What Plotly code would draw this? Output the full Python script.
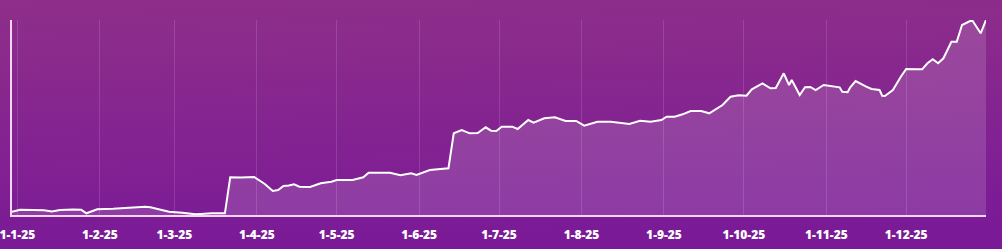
import base64
import plotly.graph_objects as go

dates = [
    "2024-12-30", "2025-01-02", "2025-01-07", "2025-01-11", "2025-01-14", "2025-01-17",
    "2025-01-22", "2025-01-25", "2025-01-27", "2025-01-31", "2025-02-06", "2025-02-11",
    "2025-02-15", "2025-02-18", "2025-02-20", "2025-02-23", "2025-02-27", "2025-03-04",
    "2025-03-09", "2025-03-11", "2025-03-15", "2025-03-20", "2025-03-22", "2025-03-26",
    "2025-03-31", "2025-04-04", "2025-04-07", "2025-04-09", "2025-04-11", "2025-04-13",
    "2025-04-15", "2025-04-17", "2025-04-21", "2025-04-25", "2025-04-29", "2025-05-01",
    "2025-05-07", "2025-05-11", "2025-05-13", "2025-05-21", "2025-05-25", "2025-05-29",
    "2025-05-31", "2025-06-05", "2025-06-09", "2025-06-12", "2025-06-14", "2025-06-17",
    "2025-06-20", "2025-06-23", "2025-06-26", "2025-06-28", "2025-06-30", "2025-07-02",
    "2025-07-06", "2025-07-08", "2025-07-12", "2025-07-14", "2025-07-18", "2025-07-22",
    "2025-07-26", "2025-07-30", "2025-08-02", "2025-08-07", "2025-08-12", "2025-08-19",
    "2025-08-23", "2025-08-27", "2025-08-31", "2025-09-02", "2025-09-05", "2025-09-08",
    "2025-09-11", "2025-09-15", "2025-09-18", "2025-09-23", "2025-09-26", "2025-09-29",
    "2025-10-02", "2025-10-04", "2025-10-08", "2025-10-11", "2025-10-13", "2025-10-16",
    "2025-10-18", "2025-10-19", "2025-10-22", "2025-10-24", "2025-10-26", "2025-10-28",
    "2025-10-31", "2025-11-03", "2025-11-06", "2025-11-07", "2025-11-09", "2025-11-10",
    "2025-11-12", "2025-11-16", "2025-11-18", "2025-11-21", "2025-11-22", "2025-11-23",
    "2025-11-26", "2025-11-29", "2025-12-01", "2025-12-05", "2025-12-07", "2025-12-09",
    "2025-12-11", "2025-12-13", "2025-12-15", "2025-12-18", "2025-12-20", "2025-12-22",
    "2025-12-25", "2025-12-26", "2025-12-29", "2025-12-31",
]

values = [
    3.3, 5.3, 5.0, 4.7, 3.5, 5.0,
    5.5, 5.2, 1.7, 5.7, 6.3, 7.0,
    7.5, 8.3, 7.7, 6.0, 3.3, 2.3,
    0.7, 1.0, 1.7, 1.7, 37.7, 37.5,
    38.0, 31.0, 24.0, 25.0, 29.0, 29.5,
    30.7, 28.3, 28.0, 31.7, 33.3, 35.0,
    35.0, 37.7, 42.3, 42.3, 39.7, 41.7,
    40.0, 45.0, 46.0, 46.7, 81.7, 85.0,
    81.7, 82.0, 87.7, 84.3, 84.0, 88.3,
    88.3, 86.0, 95.0, 92.3, 96.7, 97.7,
    94.0, 94.0, 89.3, 93.3, 93.3, 91.0,
    94.3, 93.3, 95.0, 98.3, 98.3, 100.7,
    104.0, 104.0, 101.7, 110.0, 118.3, 119.7,
    119.3, 125.7, 131.7, 126.7, 127.0, 141.7,
    130.0, 135.0, 120.0, 127.7, 128.0, 125.0,
    130.0, 129.0, 127.7, 123.3, 122.7, 127.7,
    134.0, 128.3, 126.0, 125.0, 119.3, 119.0,
    125.0, 138.3, 146.0, 145.7, 145.7, 151.7,
    155.7, 151.7, 156.7, 173.3, 173.3, 190.0,
    194.0, 194.0, 181.7, 195.0,
]

x_range = ["2024-12-30", "2025-12-31"]
y_range = [0, 195]

W, H = 1002, 249
ML, MR, MT, MB = 12, 16, 20, 34
PW, PH = W - ML - MR, H - MT - MB

svg = (
    '<svg xmlns="http://www.w3.org/2000/svg" width="100" height="100" preserveAspectRatio="none">'
    '<defs><linearGradient id="g" x1="0" y1="0" x2="0.1" y2="1">'
    '<stop offset="0" stop-color="#8f2f89"/>'
    '<stop offset="1" stop-color="#7a1a97"/>'
    '</linearGradient></defs>'
    '<rect width="100" height="100" fill="url(#g)"/></svg>'
)
bg_src = "data:image/svg+xml;base64," + base64.b64encode(svg.encode()).decode()

fig = go.Figure()
fig.add_trace(go.Scatter(
    x=dates, y=values, mode="lines",
    line=dict(color="#ffffff", width=2),
    fill="tozeroy", fillcolor="rgba(255,255,255,0.14)",
    hoverinfo="skip", showlegend=False,
))

fig.update_layout(
    width=W, height=H,
    margin=dict(l=ML, r=MR, t=MT, b=MB, autoexpand=False),
    paper_bgcolor="#84238f",
    plot_bgcolor="rgba(0,0,0,0)",
    images=[dict(
        source=bg_src, xref="paper", yref="paper",
        x=-ML / PW, y=1 + MT / PH, sizex=W / PW, sizey=H / PH,
        xanchor="left", yanchor="top", sizing="stretch", layer="below",
    )],
    xaxis=dict(
        type="date", range=x_range, automargin=False,
        tick0="2025-01-01", dtick="M1", tickformat="%-d-%-m-%y",
        showgrid=True, gridcolor="rgba(255,255,255,0.13)", gridwidth=1,
        showline=True, linecolor="#f3d6f3", linewidth=2,
        ticks="", zeroline=False, ticklabelstandoff=8,
        ticklabeloverflow="allow",
        tickfont=dict(family="Open Sans", size=12, color="#ffffff", weight=800),
    ),
    yaxis=dict(
        range=y_range, showgrid=False, zeroline=False, automargin=False,
        showline=True, linecolor="#f3d6f3", linewidth=2,
        showticklabels=False, ticks="",
    ),
)

fig.write_html("out.html")
